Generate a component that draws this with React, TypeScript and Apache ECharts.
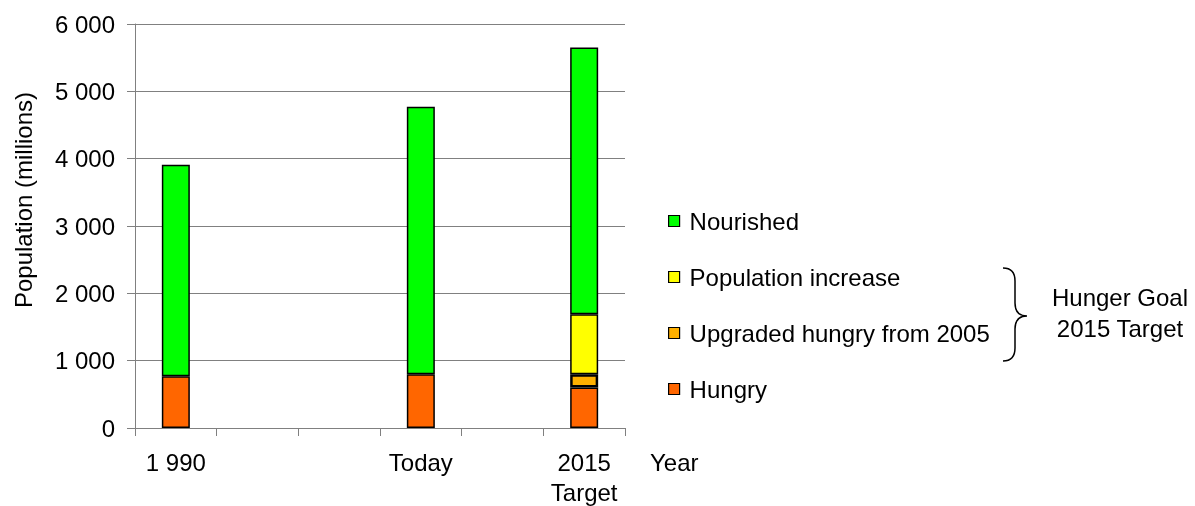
import React, { useEffect, useRef } from "react";
import * as echarts from "echarts";

const categories = ["1 990", "", "", "Today", "", "2015\nTarget"];
const hungry = [770, null, null, 800, null, 600];
const upgraded = [null, null, null, null, null, 200];
const popIncrease = [null, null, null, null, null, 890];
const nourished = [3140, null, null, 3970, null, 3960];
const legendOrder = ["Nourished", "Population increase", "Upgraded hungry from 2005", "Hungry"];

const FONT = "'Liberation Sans', Arial, sans-serif";

echarts.graphic.registerShape(
  "brace",
  echarts.graphic.extendPath(
    "M1003,268 Q1015,268 1015,281 L1015,303 Q1015,316 1027,316 Q1015,316 1015,329 L1015,348 Q1015,361 1003,361",
    {}
  )
);

export default function App() {
  const ref = useRef<HTMLDivElement>(null);
  useEffect(() => {
    const chart = echarts.init(ref.current!, undefined, { renderer: "svg" });
    const fmt = (v: number) => String(v).replace(/\B(?=(\d{3})+(?!\d))/g, " ");
    const mk = (name: string, data: (number | null)[], color: string, bw = 1.5) => ({
      name,
      type: "bar",
      stack: "total",
      data,
      barWidth: 28,
      itemStyle: { color, borderColor: "#000", borderWidth: bw },
    });
    chart.setOption({
      animation: false,
      textStyle: { fontFamily: FONT },
      grid: { left: 135, top: 24, width: 490, height: 404, outerBoundsMode: "none", containLabel: false },
      legend: {
        orient: "vertical",
        left: 668,
        top: 209,
        padding: 0,
        itemGap: 32,
        itemWidth: 11,
        itemHeight: 11,
        icon: "rect",
        data: legendOrder,
        itemStyle: { borderColor: "#000", borderWidth: 1.2 },
        textStyle: { fontSize: 24, lineHeight: 24, color: "#000", fontFamily: FONT, padding: [0, 0, 0, 5] },
      },
      xAxis: {
        type: "category",
        data: categories,
        boundaryGap: true,
        axisLine: { show: true, lineStyle: { color: "#808080", width: 1 } },
        axisTick: { show: true, length: 8, interval: 0, lineStyle: { color: "#808080" } },
        axisLabel: { interval: 0, fontSize: 24, lineHeight: 30, margin: 19, color: "#000", fontFamily: FONT },
      },
      yAxis: {
        type: "value",
        min: 0,
        max: 6000,
        interval: 1000,
        axisLine: { show: true, lineStyle: { color: "#808080", width: 1 } },
        axisTick: { show: true, length: 8, lineStyle: { color: "#808080" } },
        splitLine: { show: true, lineStyle: { color: "#808080", width: 1 } },
        axisLabel: { fontSize: 24, margin: 20, color: "#000", fontFamily: FONT, formatter: fmt },
      },
      series: [
        mk("Hungry", hungry, "#FF6600"),
        mk("Upgraded hungry from 2005", upgraded, "#FFB000", 2.5),
        mk("Population increase", popIncrease, "#FFFF00"),
        mk("Nourished", nourished, "#00FF00"),
      ],
      graphic: [
        {
          type: "text",
          x: 23,
          y: 200,
          rotation: Math.PI / 2,
          style: {
            text: "Population (millions)",
            fontSize: 24,
            fontFamily: FONT,
            fill: "#000",
            align: "center",
            verticalAlign: "middle",
          },
        },
        {
          type: "text",
          x: 650,
          y: 462,
          style: { text: "Year", fontSize: 24, fontFamily: FONT, fill: "#000", align: "left", verticalAlign: "middle" },
        },
        {
          type: "brace",
          x: 0,
          y: 0,
          style: { stroke: "#000", lineWidth: 1.5, fill: "none" },
        },
        {
          type: "text",
          x: 1120,
          y: 313,
          style: {
            text: "Hunger Goal\n2015 Target",
            fontSize: 24,
            lineHeight: 31,
            fontFamily: FONT,
            fill: "#000",
            align: "center",
            verticalAlign: "middle",
          },
        },
      ],
    });
    return () => chart.dispose();
  }, []);
  return <div ref={ref} style={{ position: "fixed", left: 0, top: 0, width: 1195, height: 506 }} />;
}
